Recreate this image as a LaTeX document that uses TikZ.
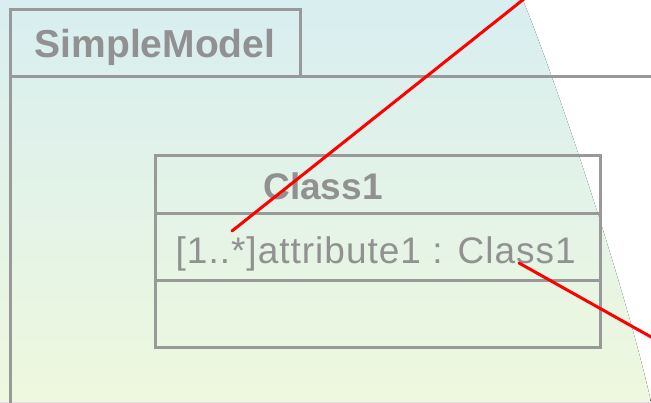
\documentclass[tikz,border=0pt]{standalone}
\usepackage{fontspec}
\setmainfont{Liberation Sans}
\usetikzlibrary{calc}
\definecolor{pkgtop}{RGB}{216,238,240}
\definecolor{pkgbot}{RGB}{238,248,222}
\definecolor{umlgray}{RGB}{153,153,153}
\definecolor{umltext}{RGB}{145,145,145}
\tikzset{
    uml-line/.style={
        draw=umlgray, line width=3pt
    },
    uml-box/.style={
        uml-line, rectangle, inner sep=0pt, outer sep=0pt, minimum width=445pt
    },
    uml-title/.style={
        text=umltext, inner sep=0pt, font=\fontsize{39}{42}\selectfont\bfseries
    },
    uml-attr/.style={
        text=umltext, inner sep=0pt, font=\fontsize{37}{40}\selectfont\addfontfeature{LetterSpace=2.7}
    },
    red-link/.style={
        draw=red, line width=3pt, line cap=round
    },
}
\begin{document}
\begin{tikzpicture}[x=1pt, y=-1pt]

        \useasboundingbox (0,0) rectangle (651,402);
        \clip (0,0) rectangle (651,402);

        % BACKGROUND
        \fill[top color=pkgtop, bottom color=pkgbot]
            (0,0) -- (523,0) .. controls (563,100) and (629,302) .. (651,402) -- (0,402) -- cycle;

        % PACKAGE FRAME AND TAB
        \node[uml-line, rectangle, inner sep=0pt, minimum width=290pt, minimum height=67pt] (TAB) at (155,42.5) {};
        \node[uml-title, anchor=base] (PKGNAME) at (155,57) {SimpleModel};
        \coordinate[] (FRAMETL) at (10,76);
        \coordinate[] (FRAMETR) at (665,76);
        \coordinate[] (FRAMEBL) at (10,415);
        \draw[uml-line] (FRAMETR) -- (FRAMETL) -- (FRAMEBL);

        % CLASS COMPARTMENTS
        \node[uml-box, minimum height=58pt, anchor=north west] (NAMEBOX) at (155,155) {};
        \node[uml-box, minimum height=67pt, anchor=north]      (ATTRBOX) at (NAMEBOX.south) {};
        \node[uml-box, minimum height=67pt, anchor=north]      (OPBOX)   at (ATTRBOX.south) {};

        % CLASS TEXTS
        \node[uml-title, font=\fontsize{37}{40}\selectfont\bfseries, anchor=base] (CLASSNAME) at (323,199) {Class1};
        \node[uml-attr, anchor=base west] (ATTR) at (175.5,263) {[1..*]attribute1 : Class1};

        % RED LINKS
        \coordinate[] (STAR)   at (232,231);
        \coordinate[] (STAROUT) at (534,-9);
        \coordinate[] (ESS)    at (519,263);
        \coordinate[] (ESSOUT) at (669,347);
        \draw[red-link] (STAR) -- (STAROUT);
        \draw[red-link] (ESS)  -- (ESSOUT);

    \end{tikzpicture}
\end{document}
